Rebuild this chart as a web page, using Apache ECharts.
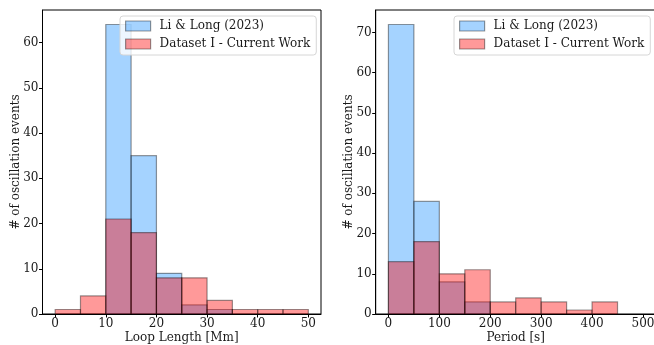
<!DOCTYPE html>
<html>
<head>
<meta charset="utf-8">
<script src="https://cdn.jsdelivr.net/npm/echarts@6/dist/echarts.min.js"></script>
<style>
  html, body { margin: 0; padding: 0; background: #fff; }
  #chart { width: 654px; height: 345px; }
</style>
</head>
<body>
<div id="chart"></div>
<script>
// Histogram bin edges and counts
const lengthEdges = [0, 5, 10, 15, 20, 25, 30, 35, 40, 45, 50];
const lengthLiLong = [0, 0, 64, 35, 9, 2, 1, 0, 0, 0];
const lengthDatasetI = [1, 4, 21, 18, 8, 8, 3, 1, 1, 1];

const periodEdges = [0, 50, 100, 150, 200, 250, 300, 350, 400, 450, 500];
const periodLiLong = [72, 28, 8, 3, 0, 0, 0, 0, 0, 0];
const periodDatasetI = [13, 18, 10, 11, 3, 4, 3, 1, 3, 0];

// Tick labels
const lengthTicks = [0, 10, 20, 30, 40, 50];
const periodTicks = [0, 100, 200, 300, 400, 500];
const lengthCountTicks = [0, 10, 20, 30, 40, 50, 60];
const periodCountTicks = [0, 10, 20, 30, 40, 50, 60, 70];

const seriesNames = ['Li & Long (2023)', 'Dataset I - Current Work'];
const blueFill = 'rgba(30,144,255,0.4)';
const redFill = 'rgba(255,0,0,0.4)';
const edge = 'rgba(0,0,0,0.4)';
const FONT = 'DejaVu Serif';
const INK = '#1a1a1a';

function bins(edges, counts) {
  return counts.map((c, i) => [edges[i], edges[i + 1], c]);
}

function histSeries(name, data, fill, gridIdx) {
  return {
    type: 'custom',
    name: name,
    xAxisIndex: gridIdx,
    yAxisIndex: gridIdx,
    data: data,
    itemStyle: { color: fill, borderColor: edge, borderWidth: 1 },
    encode: { x: [0, 1], y: 2 },
    renderItem: function (params, api) {
      const h = api.value(2);
      if (!h) return null;
      const p0 = api.coord([api.value(0), 0]);
      const p1 = api.coord([api.value(1), h]);
      return {
        type: 'rect',
        shape: { x: p0[0], y: p1[1], width: p1[0] - p0[0], height: p0[1] - p1[1] },
        style: { fill: fill, stroke: edge, lineWidth: 1.2 }
      };
    }
  };
}

function xAxis(gridIdx, min, max, ticks, name) {
  return {
    type: 'value', gridIndex: gridIdx, min: min, max: max,
    name: name, nameLocation: 'middle', nameGap: 18, nameMoveOverlap: false,
    nameTextStyle: { fontFamily: FONT, fontSize: 12, color: INK },
    axisLine: { show: true, onZero: false, lineStyle: { color: '#000', width: 1 } },
    axisTick: { show: true, length: 3.5, lineStyle: { color: '#000' }, customValues: ticks },
    axisLabel: { fontFamily: FONT, fontSize: 12, color: INK, margin: 4, customValues: ticks },
    splitLine: { show: false }
  };
}

function yAxis(gridIdx, max, ticks) {
  return {
    type: 'value', gridIndex: gridIdx, min: 0, max: max,
    name: '# of oscillation events', nameLocation: 'middle', nameGap: 21, nameRotate: 90,
    nameMoveOverlap: false,
    nameTextStyle: { fontFamily: FONT, fontSize: 12, color: INK },
    axisLine: { show: true, onZero: false, lineStyle: { color: '#000', width: 1 } },
    axisTick: { show: true, length: 3.5, lineStyle: { color: '#000' }, customValues: ticks },
    axisLabel: { fontFamily: FONT, fontSize: 12, color: INK, margin: 4, customValues: ticks },
    splitLine: { show: false }
  };
}

function legend(left) {
  return {
    left: left, top: 16, orient: 'vertical',
    itemWidth: 25, itemHeight: 10, itemGap: 4,
    padding: [3, 6, 4, 5],
    backgroundColor: 'rgba(255,255,255,0.8)',
    borderColor: '#d6d6d6', borderWidth: 1, borderRadius: 3,
    selectedMode: false,
    textStyle: { fontFamily: FONT, fontSize: 12, color: INK, lineHeight: 14, padding: [0, 0, 0, 4] },
    data: [
      { name: seriesNames[0], icon: 'rect', itemStyle: { color: blueFill, borderColor: edge, borderWidth: 1.2 } },
      { name: seriesNames[1], icon: 'rect', itemStyle: { color: redFill, borderColor: edge, borderWidth: 1.2 } }
    ]
  };
}

const gridBase = { top: 10, height: 304, show: true, borderColor: '#000', borderWidth: 1, backgroundColor: 'transparent', containLabel: false, outerBoundsMode: 'none' };

const chart = echarts.init(document.getElementById('chart'), null, { renderer: 'canvas' });
chart.setOption({
  animation: false,
  backgroundColor: '#fff',
  grid: [
    Object.assign({ left: 42.5, width: 278.5 }, gridBase),
    Object.assign({ left: 375.7, width: 280 }, gridBase)
  ],
  xAxis: [
    xAxis(0, -2.5, 52.5, lengthTicks, 'Loop Length [Mm]'),
    xAxis(1, -25, 525, periodTicks, 'Period [s]')
  ],
  yAxis: [
    yAxis(0, 67.2, lengthCountTicks),
    yAxis(1, 75.6, periodCountTicks)
  ],
  legend: [legend(120), legend(454)],
  series: [
    histSeries(seriesNames[0], bins(lengthEdges, lengthLiLong), blueFill, 0),
    histSeries(seriesNames[1], bins(lengthEdges, lengthDatasetI), redFill, 0),
    histSeries(seriesNames[0], bins(periodEdges, periodLiLong), blueFill, 1),
    histSeries(seriesNames[1], bins(periodEdges, periodDatasetI), redFill, 1)
  ]
});
</script>
</body>
</html>
